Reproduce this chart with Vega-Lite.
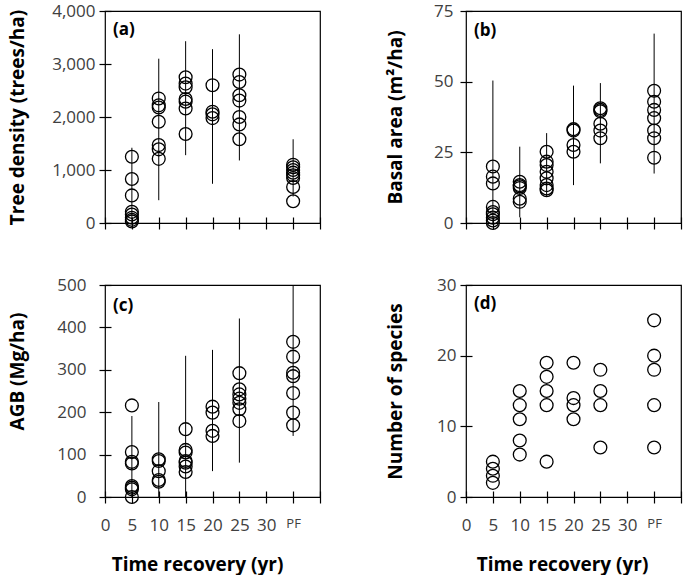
{
  "$schema": "https://vega.github.io/schema/vega-lite/v6.json",
  "background": "white",
  "padding": {"top": 1, "left": 7, "right": 4, "bottom": 0},
  "datasets": {
    "pts": [
      {"p":"a","x":5,"y":1250},{"p":"a","x":5,"y":830},{"p":"a","x":5,"y":520},{"p":"a","x":5,"y":210},{"p":"a","x":5,"y":160},{"p":"a","x":5,"y":100},{"p":"a","x":5,"y":60},{"p":"a","x":5,"y":30},
      {"p":"a","x":10,"y":2350},{"p":"a","x":10,"y":2220},{"p":"a","x":10,"y":2180},{"p":"a","x":10,"y":1910},{"p":"a","x":10,"y":1470},{"p":"a","x":10,"y":1390},{"p":"a","x":10,"y":1210},
      {"p":"a","x":15,"y":2750},{"p":"a","x":15,"y":2630},{"p":"a","x":15,"y":2560},{"p":"a","x":15,"y":2340},{"p":"a","x":15,"y":2290},{"p":"a","x":15,"y":2160},{"p":"a","x":15,"y":1680},
      {"p":"a","x":20,"y":2600},{"p":"a","x":20,"y":2100},{"p":"a","x":20,"y":2050},{"p":"a","x":20,"y":1980},
      {"p":"a","x":25,"y":2800},{"p":"a","x":25,"y":2660},{"p":"a","x":25,"y":2410},{"p":"a","x":25,"y":2310},{"p":"a","x":25,"y":2000},{"p":"a","x":25,"y":1860},{"p":"a","x":25,"y":1580},
      {"p":"a","x":35,"y":1100},{"p":"a","x":35,"y":1050},{"p":"a","x":35,"y":1000},{"p":"a","x":35,"y":950},{"p":"a","x":35,"y":900},{"p":"a","x":35,"y":850},{"p":"a","x":35,"y":680},{"p":"a","x":35,"y":410},
      {"p":"b","x":5,"y":20},{"p":"b","x":5,"y":16.4},{"p":"b","x":5,"y":14},{"p":"b","x":5,"y":5.7},{"p":"b","x":5,"y":3.9},{"p":"b","x":5,"y":3.1},{"p":"b","x":5,"y":1.9},{"p":"b","x":5,"y":0.9},{"p":"b","x":5,"y":0},
      {"p":"b","x":10,"y":14.6},{"p":"b","x":10,"y":13.4},{"p":"b","x":10,"y":13},{"p":"b","x":10,"y":12.4},{"p":"b","x":10,"y":8.6},{"p":"b","x":10,"y":7.5},
      {"p":"b","x":15,"y":25.2},{"p":"b","x":15,"y":21.7},{"p":"b","x":15,"y":20.5},{"p":"b","x":15,"y":18.1},{"p":"b","x":15,"y":15.8},{"p":"b","x":15,"y":13.4},{"p":"b","x":15,"y":12.2},{"p":"b","x":15,"y":11.6},
      {"p":"b","x":20,"y":33.2},{"p":"b","x":20,"y":32.7},{"p":"b","x":20,"y":27.6},{"p":"b","x":20,"y":25.2},
      {"p":"b","x":25,"y":40.6},{"p":"b","x":25,"y":40},{"p":"b","x":25,"y":39.5},{"p":"b","x":25,"y":35.1},{"p":"b","x":25,"y":32.7},{"p":"b","x":25,"y":30},
      {"p":"b","x":35,"y":46.8},{"p":"b","x":35,"y":42.9},{"p":"b","x":35,"y":40},{"p":"b","x":35,"y":37.1},{"p":"b","x":35,"y":32.7},{"p":"b","x":35,"y":30},{"p":"b","x":35,"y":23.1},
      {"p":"c","x":5,"y":216},{"p":"c","x":5,"y":106},{"p":"c","x":5,"y":83},{"p":"c","x":5,"y":79},{"p":"c","x":5,"y":26},{"p":"c","x":5,"y":22},{"p":"c","x":5,"y":18},{"p":"c","x":5,"y":0},
      {"p":"c","x":10,"y":89},{"p":"c","x":10,"y":85},{"p":"c","x":10,"y":61},{"p":"c","x":10,"y":40},{"p":"c","x":10,"y":36},
      {"p":"c","x":15,"y":160},{"p":"c","x":15,"y":111},{"p":"c","x":15,"y":105},{"p":"c","x":15,"y":85},{"p":"c","x":15,"y":81},{"p":"c","x":15,"y":72},{"p":"c","x":15,"y":59},
      {"p":"c","x":20,"y":213},{"p":"c","x":20,"y":199},{"p":"c","x":20,"y":156},{"p":"c","x":20,"y":144},
      {"p":"c","x":25,"y":292},{"p":"c","x":25,"y":254},{"p":"c","x":25,"y":242},{"p":"c","x":25,"y":232},{"p":"c","x":25,"y":222},{"p":"c","x":25,"y":207},{"p":"c","x":25,"y":179},
      {"p":"c","x":35,"y":366},{"p":"c","x":35,"y":331},{"p":"c","x":35,"y":293},{"p":"c","x":35,"y":285},{"p":"c","x":35,"y":245},{"p":"c","x":35,"y":199},{"p":"c","x":35,"y":169},
      {"p":"d","x":5,"y":5},{"p":"d","x":5,"y":4},{"p":"d","x":5,"y":3},{"p":"d","x":5,"y":2},
      {"p":"d","x":10,"y":15},{"p":"d","x":10,"y":13},{"p":"d","x":10,"y":11},{"p":"d","x":10,"y":8},{"p":"d","x":10,"y":6},
      {"p":"d","x":15,"y":19},{"p":"d","x":15,"y":17},{"p":"d","x":15,"y":15},{"p":"d","x":15,"y":13},{"p":"d","x":15,"y":5},
      {"p":"d","x":20,"y":19},{"p":"d","x":20,"y":14},{"p":"d","x":20,"y":13},{"p":"d","x":20,"y":11},
      {"p":"d","x":25,"y":18},{"p":"d","x":25,"y":15},{"p":"d","x":25,"y":13},{"p":"d","x":25,"y":7},
      {"p":"d","x":35,"y":25},{"p":"d","x":35,"y":20},{"p":"d","x":35,"y":18},{"p":"d","x":35,"y":13},{"p":"d","x":35,"y":7}
    ],
    "rng": [
      {"p":"a","x":5,"lo":0,"hi":1420},{"p":"a","x":10,"lo":430,"hi":3100},{"p":"a","x":15,"lo":1280,"hi":3430},{"p":"a","x":20,"lo":740,"hi":3280},{"p":"a","x":25,"lo":1180,"hi":3560},{"p":"a","x":35,"lo":500,"hi":1580},
      {"p":"b","x":5,"lo":0,"hi":50.4},{"p":"b","x":10,"lo":2,"hi":27},{"p":"b","x":15,"lo":9.2,"hi":31.8},{"p":"b","x":20,"lo":13.4,"hi":48.6},{"p":"b","x":25,"lo":21.1,"hi":49.5},{"p":"b","x":35,"lo":17.5,"hi":67},
      {"p":"c","x":5,"lo":0,"hi":191},{"p":"c","x":10,"lo":0,"hi":224},{"p":"c","x":15,"lo":0,"hi":333},{"p":"c","x":20,"lo":61,"hi":347},{"p":"c","x":25,"lo":81,"hi":421},{"p":"c","x":35,"lo":144,"hi":500}
    ]
  },
  "vconcat": [
    {
      "hconcat": [
        {
          "width": 215, "height": 212,
          "layer": [
            {"data": {"name": "rng"}, "transform": [{"filter": "datum.p == 'a'"}], "mark": {"type": "rule", "color": "black", "strokeWidth": 1},
             "encoding": {"x": {"field": "x", "type": "ordinal", "scale": {"type": "point", "domain": [0,5,10,15,20,25,30,35,40], "padding": 0}, "axis": {"labels": false, "title": null}},
                          "y": {"field": "lo", "type": "quantitative", "scale": {"domain": [0, 4000], "nice": false}, "axis": {"values": [0,1000,2000,3000,4000], "format": ",.0f", "title": "Tree density (trees/ha)", "titleX": -84, "labelPadding": 4}},
                          "y2": {"field": "hi"}}},
            {"data": {"name": "pts"}, "transform": [{"filter": "datum.p == 'a'"}], "mark": {"type": "point", "shape": "circle", "filled": false, "size": 165, "stroke": "black", "strokeWidth": 1.3, "opacity": 1},
             "encoding": {"x": {"field": "x", "type": "ordinal"}, "y": {"field": "y", "type": "quantitative"}}},
            {"data": {"values": [{}]}, "mark": {"type": "text", "text": "(a)", "align": "left", "baseline": "middle", "fontWeight": "bold", "fontSize": 17, "dx": 8},
             "encoding": {"x": {"datum": 0, "type": "ordinal"}, "y": {"datum": 3640}}}
          ]
        },
        {
          "width": 215, "height": 212,
          "layer": [
            {"data": {"name": "rng"}, "transform": [{"filter": "datum.p == 'b'"}], "mark": {"type": "rule", "color": "black", "strokeWidth": 1},
             "encoding": {"x": {"field": "x", "type": "ordinal", "scale": {"type": "point", "domain": [0,5,10,15,20,25,30,35,40], "padding": 0}, "axis": {"labels": false, "title": null}},
                          "y": {"field": "lo", "type": "quantitative", "scale": {"domain": [0, 75], "nice": false}, "axis": {"values": [0,25,50,75], "title": "Basal area (m²/ha)", "titleX": -67, "labelPadding": 7}},
                          "y2": {"field": "hi"}}},
            {"data": {"name": "pts"}, "transform": [{"filter": "datum.p == 'b'"}], "mark": {"type": "point", "shape": "circle", "filled": false, "size": 165, "stroke": "black", "strokeWidth": 1.3, "opacity": 1},
             "encoding": {"x": {"field": "x", "type": "ordinal"}, "y": {"field": "y", "type": "quantitative"}}},
            {"data": {"values": [{}]}, "mark": {"type": "text", "text": "(b)", "align": "left", "baseline": "middle", "fontWeight": "bold", "fontSize": 17, "dx": 8},
             "encoding": {"x": {"datum": 0, "type": "ordinal"}, "y": {"datum": 68}}}
          ]
        }
      ],
      "spacing": 63
    },
    {
      "hconcat": [
        {
          "width": 215, "height": 212,
          "layer": [
            {"data": {"name": "rng"}, "transform": [{"filter": "datum.p == 'c'"}], "mark": {"type": "rule", "color": "black", "strokeWidth": 1},
             "encoding": {"x": {"field": "x", "type": "ordinal", "scale": {"type": "point", "domain": [0,5,10,15,20,25,30,35,40], "padding": 0}, "axis": {"labelExpr": "datum.value == 35 ? 'PF' : (datum.value == 40 ? '' : datum.label)", "labelFontSize": {"condition": {"test": "datum.value == 35", "value": 13}, "value": 17}, "labelAngle": 0, "title": "Time recovery (yr)", "titleX": 92, "labelPadding": 14, "titlePadding": 22}},
                          "y": {"field": "lo", "type": "quantitative", "scale": {"domain": [0, 500], "nice": false}, "axis": {"values": [0,100,200,300,400,500], "title": "AGB (Mg/ha)", "titleX": -84, "titleY": 86, "labelPadding": 13}},
                          "y2": {"field": "hi"}}},
            {"data": {"name": "pts"}, "transform": [{"filter": "datum.p == 'c'"}], "mark": {"type": "point", "shape": "circle", "filled": false, "size": 165, "stroke": "black", "strokeWidth": 1.3, "opacity": 1},
             "encoding": {"x": {"field": "x", "type": "ordinal"}, "y": {"field": "y", "type": "quantitative"}}},
            {"data": {"values": [{}]}, "mark": {"type": "text", "text": "(c)", "align": "left", "baseline": "middle", "fontWeight": "bold", "fontSize": 17, "dx": 8},
             "encoding": {"x": {"datum": 0, "type": "ordinal"}, "y": {"datum": 450}}}
          ]
        },
        {
          "width": 215, "height": 212,
          "layer": [
            {"data": {"name": "pts"}, "transform": [{"filter": "datum.p == 'd'"}], "mark": {"type": "point", "shape": "circle", "filled": false, "size": 165, "stroke": "black", "strokeWidth": 1.3, "opacity": 1},
             "encoding": {"x": {"field": "x", "type": "ordinal", "scale": {"type": "point", "domain": [0,5,10,15,20,25,30,35,40], "padding": 0}, "axis": {"labelExpr": "datum.value == 35 ? 'PF' : (datum.value == 40 ? '' : datum.label)", "labelFontSize": {"condition": {"test": "datum.value == 35", "value": 13}, "value": 17}, "labelAngle": 0, "title": "Time recovery (yr)", "titleX": 96, "labelPadding": 14, "titlePadding": 22}},
                          "y": {"field": "y", "type": "quantitative", "scale": {"domain": [0, 30], "nice": false}, "axis": {"values": [0,10,20,30], "title": "Number of species", "titleX": -67, "labelPadding": 4}}}},
            {"data": {"values": [{}]}, "mark": {"type": "text", "text": "(d)", "align": "left", "baseline": "middle", "fontWeight": "bold", "fontSize": 17, "dx": 8},
             "encoding": {"x": {"datum": 0, "type": "ordinal"}, "y": {"datum": 27.3}}}
          ]
        }
      ],
      "spacing": 63
    }
  ],
  "spacing": 42,
  "config": {
    "font": "Open Sans",
    "view": {"stroke": "black", "strokeWidth": 1.2},
    "axis": {"labelFont": "Open Sans", "labelFontSize": 17, "labelColor": "#404040", "titleFont": "Open Sans", "titleFontSize": 19, "titleFontWeight": "bold", "titleColor": "black", "ticks": true, "tickWidth": 1.2, "tickSize": 12, "tickColor": "black", "offset": -6, "domain": false, "grid": false, "labelOverlap": false, "labelBound": false, "labelFlush": false},
    "text": {"font": "Open Sans", "color": "black"}
  }
}
